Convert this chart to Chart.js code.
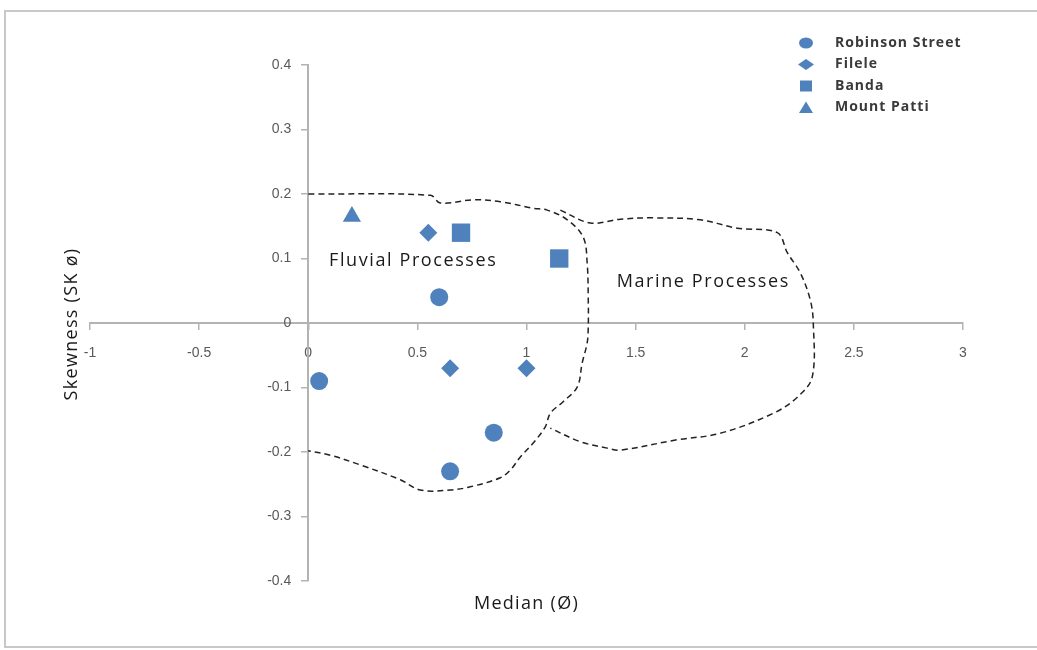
<!DOCTYPE html>
<html>
<head>
<meta charset="utf-8">
<script src="https://cdn.jsdelivr.net/npm/chart.js@4"></script>
<style>
  html, body { margin: 0; padding: 0; background: #fff; }
  #wrap { width: 1037px; height: 650px; position: relative; }
</style>
</head>
<body>
<div id="wrap"><canvas id="grafico" width="1037" height="650"></canvas></div>
<script>
// dados
const nomesSeries = ['Robinson Street', 'Filele', 'Banda', 'Mount Patti'];

const robinsonX = [0.05, 0.6, 0.85, 0.65];
const robinsonY = [-0.09, 0.04, -0.17, -0.23];
const fileleX = [0.55, 0.65, 1.0];
const fileleY = [0.14, -0.07, -0.07];
const bandaX = [0.7, 1.15];
const bandaY = [0.14, 0.1];
const mountPattiX = [0.2];
const mountPattiY = [0.165];

// contorno tracejado - processos fluviais
const fluvialX = [0, 0.56, 0.605, 0.756, 0.88, 1.03, 1.095, 1.187, 1.26, 1.278, 1.283, 1.283, 1.278, 1.255, 1.233, 1.168, 1.109, 1.086, 1.031, 0.971, 0.926, 0.88, 0.742, 0.651, 0.513, 0.422, 0.238, 0.101, 0];
const fluvialY = [0.2, 0.198, 0.186, 0.191, 0.188, 0.178, 0.175, 0.16, 0.133, 0.093, 0.036, -0.006, -0.031, -0.062, -0.099, -0.122, -0.14, -0.161, -0.186, -0.208, -0.228, -0.24, -0.254, -0.259, -0.259, -0.243, -0.22, -0.205, -0.198];

// contorno tracejado - processos marinhos
const marineX = [1.155, 1.292, 1.43, 1.581, 1.796, 1.966, 2.149, 2.195, 2.254, 2.3, 2.314, 2.309, 2.241, 2.131, 1.888, 1.691, 1.43, 1.37, 1.246, 1.109];
const marineY = [0.175, 0.155, 0.161, 0.163, 0.16, 0.147, 0.14, 0.109, 0.078, 0.036, 0, -0.084, -0.115, -0.14, -0.171, -0.181, -0.197, -0.194, -0.184, -0.163];

const xTicks = [-1, -0.5, 0, 0.5, 1, 1.5, 2, 2.5, 3];
const yTicks = [-0.4, -0.3, -0.2, -0.1, 0, 0.1, 0.2, 0.3, 0.4];

const tituloX = 'Median (Ø)';
const tituloY = 'Skewness (SK ø)';
const rotulos = [
  { texto: 'Fluvial Processes', x: 0.481, y: 0.096 },
  { texto: 'Marine Processes', x: 1.81, y: 0.064 }
];

const azul = '#4f81bd';
const cinzaEixo = '#b3b3b3';

function pontos(xs, ys) {
  return xs.map((x, i) => ({ x: x, y: ys[i] }));
}

function contorno(xs, ys) {
  return {
    data: pontos(xs, ys),
    showLine: true,
    pointRadius: 0,
    borderColor: '#222',
    borderWidth: 1.5,
    borderDash: [6, 4],
    tension: 0.35,
    fill: false
  };
}

function serie(nome, xs, ys, estilo, raio) {
  return {
    label: nome,
    data: pontos(xs, ys),
    pointStyle: estilo,
    pointRadius: raio,
    pointHoverRadius: raio,
    backgroundColor: azul,
    borderColor: azul,
    borderWidth: 0,
    showLine: false
  };
}

// desenha a moldura, títulos, rótulos e a legenda
const extras = {
  id: 'extras',
  beforeDraw(chart) {
    const ctx = chart.ctx;
    ctx.save();
    ctx.strokeStyle = '#c8c8c8';
    ctx.lineWidth = 2;
    ctx.strokeRect(5, 11, 1040, 636);
    ctx.restore();

    // o eixo y centrado não aplica o padding nos rótulos: afastar manualmente
    const itens = chart.scales.y.getLabelItems();
    if (!itens._afastado) {
      itens.forEach(it => { it.options.translation[0] -= 17; });
      itens._afastado = true;
    }
  },
  afterDraw(chart) {
    const ctx = chart.ctx;
    const sx = chart.scales.x, sy = chart.scales.y;
    ctx.save();
    ctx.fillStyle = '#1a1a1a';
    ctx.textAlign = 'center';
    ctx.textBaseline = 'middle';

    ctx.font = '18px "Open Sans"';
    ctx.letterSpacing = '1.3px';
    ctx.fillText(tituloX, (chart.chartArea.left + chart.chartArea.right) / 2, 604);
    ctx.save();
    ctx.translate(72, 324);
    ctx.rotate(-Math.PI / 2);
    ctx.fillText(tituloY, 0, 0);
    ctx.restore();

    ctx.font = '18px "Open Sans"';
    ctx.letterSpacing = '1.6px';
    rotulos.forEach(r => {
      ctx.fillText(r.texto, sx.getPixelForValue(r.x), sy.getPixelForValue(r.y));
    });

    // legenda
    ctx.textAlign = 'left';
    ctx.font = 'bold 14px "Open Sans"';
    ctx.letterSpacing = '1px';
    const mx = 806;
    nomesSeries.forEach((nome, i) => {
      const y = 43 + i * 21.5;
      ctx.fillStyle = azul;
      ctx.beginPath();
      if (i === 0) {
        ctx.ellipse(mx, y, 7, 5.5, 0, 0, Math.PI * 2);
      } else if (i === 1) {
        ctx.moveTo(mx - 8, y); ctx.lineTo(mx, y - 5.5); ctx.lineTo(mx + 8, y); ctx.lineTo(mx, y + 5.5);
      } else if (i === 2) {
        ctx.rect(mx - 6, y - 5.5, 12, 11);
      } else {
        ctx.moveTo(mx - 7, y + 5.5); ctx.lineTo(mx, y - 6); ctx.lineTo(mx + 7, y + 5.5);
      }
      ctx.closePath();
      ctx.fill();
      ctx.fillStyle = '#3a3a3a';
      ctx.fillText(nome, 835, y);
    });
    ctx.restore();
  }
};

function gerarGrafico() {
  const canvas = document.getElementById('grafico');
  new Chart(canvas, {
    type: 'scatter',
    data: {
      datasets: [
        serie(nomesSeries[0], robinsonX, robinsonY, 'circle', 9),
        serie(nomesSeries[1], fileleX, fileleY, 'rectRot', 9),
        serie(nomesSeries[2], bandaX, bandaY, 'rect', 13),
        serie(nomesSeries[3], mountPattiX, mountPattiY, 'triangle', 10.5),
        contorno(fluvialX, fluvialY),
        contorno(marineX, marineY)
      ]
    },
    options: {
      responsive: false,
      devicePixelRatio: 1,
      animation: false,
      layout: { padding: { left: 90, right: 74, top: 65, bottom: 69 } },
      plugins: {
        legend: { display: false },
        tooltip: { enabled: false }
      },
      scales: {
        x: {
          type: 'linear',
          position: { y: 0 },
          min: -1,
          max: 3,
          afterBuildTicks: s => { s.ticks = xTicks.map(v => ({ value: v })); },
          grid: { drawOnChartArea: false, drawTicks: true, tickLength: 6, color: cinzaEixo, lineWidth: 1.5 },
          border: { display: true, color: cinzaEixo, width: 2 },
          ticks: {
            color: '#595959',
            font: { family: 'Liberation Sans', size: 14 },
            padding: 16,
            maxRotation: 0,
            autoSkip: false,
            callback: v => String(v)
          }
        },
        y: {
          type: 'linear',
          position: { x: 0 },
          min: -0.4,
          max: 0.4,
          afterBuildTicks: s => { s.ticks = yTicks.map(v => ({ value: v })); },
          grid: { drawOnChartArea: false, drawTicks: true, tickLength: 6, color: cinzaEixo, lineWidth: 1.5 },
          border: { display: true, color: cinzaEixo, width: 2 },
          ticks: {
            color: '#595959',
            font: { family: 'Liberation Sans', size: 14 },
            autoSkip: false,
            callback: v => String(Math.round(v * 10) / 10)
          }
        }
      }
    },
    plugins: [extras]
  });
}

window.addEventListener('DOMContentLoaded', gerarGrafico);
</script>
</body>
</html>
